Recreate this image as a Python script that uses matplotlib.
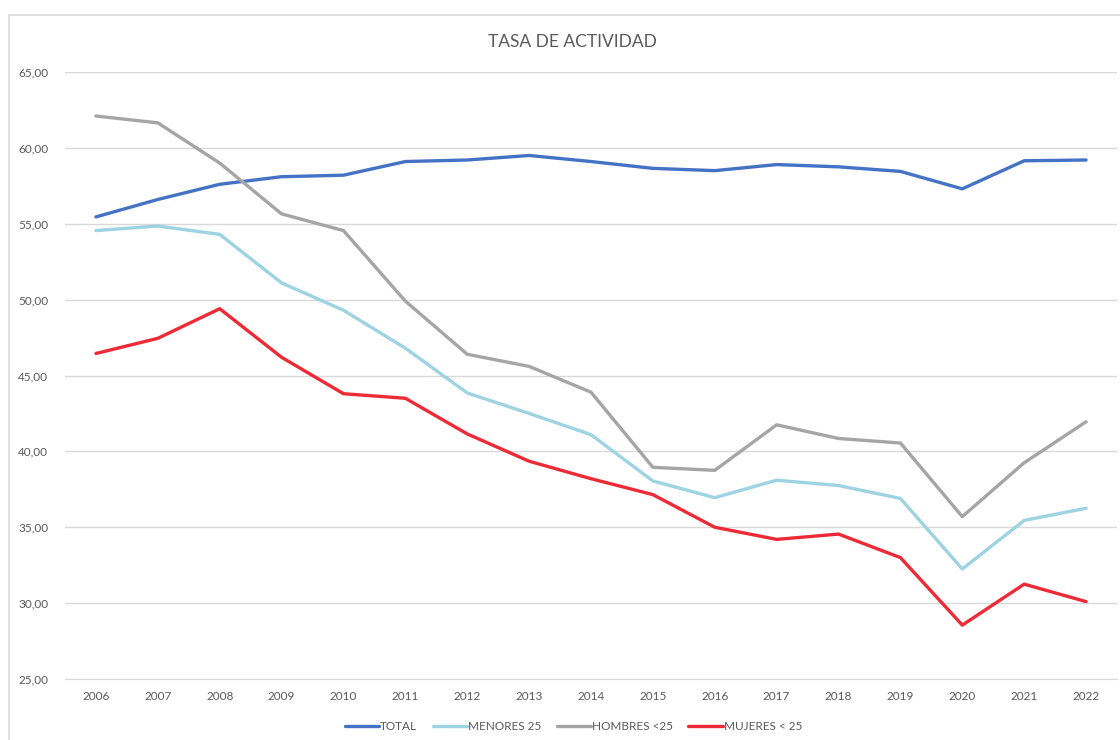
import matplotlib.pyplot as plt
from matplotlib.patches import Rectangle
from matplotlib.ticker import FuncFormatter

# Datos
years = [str(y) for y in range(2006, 2023)]
total = [55.45, 56.6, 57.6, 58.1, 58.2, 59.1, 59.2, 59.5, 59.1, 58.65, 58.5,
         58.9, 58.75, 58.45, 57.3, 59.15, 59.2]
menores_25 = [54.55, 54.85, 54.3, 51.1, 49.3, 46.8, 43.85, 42.5, 41.1, 38.05, 36.95,
              38.1, 37.75, 36.9, 32.25, 35.45, 36.25]
hombres_25 = [62.1, 61.65, 59.0, 55.65, 54.55, 49.9, 46.4, 45.6, 43.9, 38.95, 38.75,
              41.75, 40.85, 40.55, 35.7, 39.25, 41.95]
mujeres_25 = [46.45, 47.45, 49.4, 46.2, 43.8, 43.5, 41.15, 39.35, 38.2, 37.15, 35.0,
              34.2, 34.55, 33.0, 28.55, 31.25, 30.1]

series = [
    ('TOTAL', total, '#4472C4'),
    ('MENORES 25', menores_25, '#9DD3E2'),
    ('HOMBRES <25', hombres_25, '#A5A5A5'),
    ('MUJERES < 25', mujeres_25, '#EE2A36'),
]

plt.rcParams['font.family'] = ['Lato', 'DejaVu Sans']
txt_color = '#595959'

fig = plt.figure(figsize=(11.2, 7.4), dpi=100)
# Marco del gráfico
fig.patches.append(Rectangle((9 / 1120, -0.01), 1.0, 1 - 15 / 740 + 0.01,
                             transform=fig.transFigure, fill=False,
                             edgecolor='#D9D9D9', linewidth=1.2))

ax = fig.add_axes([65 / 1120, 1 - 679 / 740, (1117 - 65) / 1120, (679 - 72) / 740])

for name, values, color in series:
    ax.plot(years, values, color=color, linewidth=2.4, label=name,
            solid_joinstyle='round', solid_capstyle='round')

ax.set_ylim(25, 65)
ax.set_xlim(-0.5, len(years) - 0.5)
ax.set_yticks(range(25, 66, 5))
ax.yaxis.set_major_formatter(FuncFormatter(lambda v, p: f'{v:.2f}'.replace('.', ',')))
ax.grid(axis='y', color='#D9D9D9', linewidth=1)
ax.set_axisbelow(True)
for s in ['top', 'right', 'left']:
    ax.spines[s].set_visible(False)
ax.spines['bottom'].set_color('#D9D9D9')
ax.tick_params(axis='both', length=0, labelsize=8.5, labelcolor=txt_color)
ax.tick_params(axis='y', pad=12)
ax.tick_params(axis='x', pad=9)

fig.text(0.511, 1 - 42 / 740, 'TASA DE ACTIVIDAD', ha='center', va='center',
         fontsize=12.5, color=txt_color)

fig.legend(loc='center', bbox_to_anchor=(0.512, 1 - 727 / 740), ncol=4, frameon=False,
           fontsize=8.5, labelcolor=txt_color, handlelength=2.9, handletextpad=0.1,
           columnspacing=1.3)

fig.savefig('out.png', dpi=100)
